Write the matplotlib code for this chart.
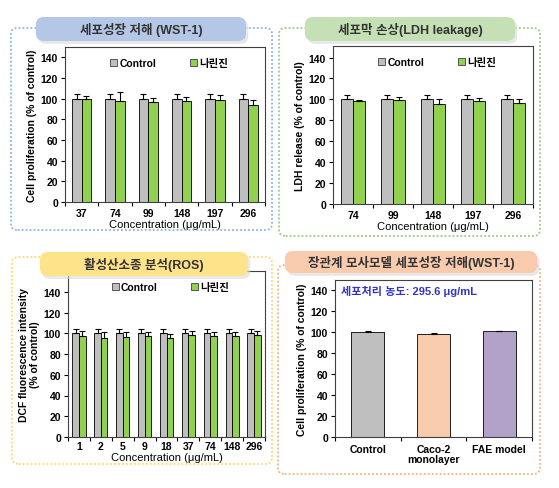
import matplotlib
matplotlib.use("Agg")
import matplotlib.pyplot as plt
import numpy as np
from matplotlib.patches import FancyBboxPatch, Patch

plt.rcParams['font.family'] = ['Liberation Sans', 'Noto Sans CJK KR', 'DejaVu Sans']

# --- data ---
wst_conc = ['37', '74', '99', '148', '197', '296']
wst_ctrl = [100, 100, 100, 100, 100, 100]
wst_ctrl_err = [4.5, 4.5, 4.5, 4.5, 4.5, 4.5]
wst_nar = [100, 98, 97, 98, 99, 94]
wst_nar_err = [3, 8, 4, 4, 5, 5]

ldh_conc = ['74', '99', '148', '197', '296']
ldh_ctrl = [100, 100, 100, 100, 100]
ldh_ctrl_err = [4, 4, 4, 4, 4]
ldh_nar = [98, 99, 96, 98, 97]
ldh_nar_err = [1, 3, 4, 3, 3]

ros_conc = ['1', '2', '5', '9', '18', '37', '74', '148', '296']
ros_ctrl = [100, 100, 100, 100, 100, 100, 100, 100, 100]
ros_ctrl_err = [4.5, 4.5, 4.5, 4.5, 4.5, 4.5, 4.5, 4.5, 4.5]
ros_nar = [97, 95, 96, 97, 95, 98, 97, 97, 98]
ros_nar_err = [5, 6, 5, 4, 4, 4, 4, 4, 4]

gut_labels = ['Control', 'Caco-2\nmonolayer', 'FAE model']
gut_vals = [100, 98.5, 101]
gut_err = [1, 1, 0]

W, H = 559, 489
GRAY = '#BFBFBF'
GREEN = '#92D050'


def rect(l, t, r, b):
    # pixel box -> figure fraction
    return [l / W, 1 - b / H, (r - l) / W, (b - t) / H]


def frame_box(fig, l, t, r, b, color):
    x, y, w, h = rect(l, t, r, b)
    fig.patches.append(FancyBboxPatch((x, y), w, h, boxstyle="round,pad=0,rounding_size=0.012",
                                      transform=fig.transFigure, fill=False, edgecolor=color,
                                      linestyle=(0, (1, 1.2)), linewidth=1.3, zorder=0))


def title_pill(fig, l, t, r, b, color, text):
    x, y, w, h = rect(l, t, r, b)
    fig.patches.append(FancyBboxPatch((x + 0.004, y - 0.006), w, h, boxstyle="round,pad=0,rounding_size=0.015",
                                      transform=fig.transFigure, facecolor='#D9D9D9', edgecolor='none',
                                      alpha=0.6, zorder=1))
    fig.patches.append(FancyBboxPatch((x, y), w, h, boxstyle="round,pad=0,rounding_size=0.015",
                                      transform=fig.transFigure, facecolor=color, edgecolor='none', zorder=2))
    fig.text(x + w / 2, y + h / 2, text, ha='center', va='center', fontsize=9,
             fontweight='bold', color='#333333', zorder=3)


def style_axes(ax, ymax):
    ax.set_ylim(0, ymax)
    ax.set_yticks(np.arange(0, 141, 20))
    for s in ax.spines.values():
        s.set_linewidth(0.8)
        s.set_color('#404040')
    ax.tick_params(axis='y', direction='out', length=3, width=0.8, labelsize=7.5, pad=2)
    for lab in ax.get_yticklabels():
        lab.set_fontweight('bold')


def pair_chart(ax, conc, ctrl, ctrl_err, nar, nar_err, ymax, width, tick_pad=4):
    x = np.arange(len(conc))
    ekw = dict(elinewidth=0.8, capsize=2.5, capthick=0.8, ecolor='black')
    ax.bar(x - width / 2, ctrl, width, color=GRAY, edgecolor='black', linewidth=0.6,
           yerr=[np.zeros(len(x)), ctrl_err], error_kw=ekw)
    ax.bar(x + width / 2, nar, width, color=GREEN, edgecolor='black', linewidth=0.6,
           yerr=[np.zeros(len(x)), nar_err], error_kw=ekw)
    ax.set_xlim(-0.5, len(x) - 0.5)
    ax.set_xticks(x)
    ax.set_xticklabels(conc, fontsize=7.5, fontweight='bold')
    ax.set_xticks(np.arange(-0.5, len(x), 1), minor=True)
    ax.tick_params(axis='x', which='major', length=0, pad=tick_pad)
    ax.tick_params(axis='x', which='minor', direction='out', length=3, width=0.8)
    style_axes(ax, ymax)
    ax.set_xlabel('Concentration (μg/mL)', fontsize=8, labelpad=1)
    handles = [Patch(facecolor=GRAY, edgecolor='#404040', linewidth=0.6, label='Control'),
               Patch(facecolor=GREEN, edgecolor='#404040', linewidth=0.6, label='나린진')]
    ax.legend(handles=handles, ncol=2, loc='upper center', bbox_to_anchor=(0.52, 0.99),
              frameon=False, handlelength=0.7, handleheight=0.7,
              handletextpad=0.2, columnspacing=3.2, prop={'weight': 'bold', 'size': 7.5})


fig = plt.figure(figsize=(W / 100, H / 100), dpi=100)

# panel boxes and titles
frame_box(fig, 11, 29, 272, 231, '#8FB4DC')
frame_box(fig, 279, 29, 540, 237, '#9CC77E')
frame_box(fig, 12, 258, 272, 465, '#FFD966')
frame_box(fig, 278, 266, 540, 475, '#F4B183')
title_pill(fig, 36, 18, 246, 42, '#B4C7E7', '세포성장 저해 (WST-1)')
title_pill(fig, 305, 18, 515, 42, '#C5E0B4', '세포막 손상(LDH leakage)')
title_pill(fig, 40, 253, 248, 277, '#FFE38A', '활성산소종 분석(ROS)')
title_pill(fig, 285, 252, 537, 274, '#F8CBAD', '장관계 모사모델 세포성장 저해(WST-1)')

# WST-1
ax1 = fig.add_axes(rect(65, 48, 265, 203))
pair_chart(ax1, wst_conc, wst_ctrl, wst_ctrl_err, wst_nar, wst_nar_err, 150, 0.29)
ax1.set_ylabel('Cell proliferation (% of control)', fontsize=7.5, fontweight='bold', labelpad=3)

# LDH
ax2 = fig.add_axes(rect(333, 47, 533, 205))
pair_chart(ax2, ldh_conc, ldh_ctrl, ldh_ctrl_err, ldh_nar, ldh_nar_err, 151, 0.31)
ax2.set_ylabel('LDH release (% of control)', fontsize=7.5, fontweight='bold', labelpad=3)

# ROS
ax3 = fig.add_axes(rect(68, 272, 265, 438))
pair_chart(ax3, ros_conc, ros_ctrl, ros_ctrl_err, ros_nar, ros_nar_err, 160, 0.3, tick_pad=3)
ax3.set_ylabel('DCF fluorescence intensity\n(% of control)', fontsize=7.5, fontweight='bold',
               labelpad=3, linespacing=1.1)
ax3.xaxis.labelpad = 0.5

# gut model
ax4 = fig.add_axes(rect(335, 281, 532, 438))
x4 = np.arange(len(gut_labels))
ax4.bar(x4, gut_vals, 0.5, color=[GRAY, '#F8CBAD', '#B3A2C7'], edgecolor='black', linewidth=0.6,
        yerr=[np.zeros(len(x4)), gut_err],
        error_kw=dict(elinewidth=0.8, capsize=2.5, capthick=0.8, ecolor='black'))
ax4.set_xlim(-0.5, len(x4) - 0.5)
ax4.set_xticks(x4)
ax4.set_xticklabels(gut_labels, fontsize=7.5, fontweight='bold', linespacing=1.0)
ax4.set_xticks(np.arange(-0.5, len(x4), 1), minor=True)
ax4.tick_params(axis='x', which='major', length=0, pad=5)
ax4.tick_params(axis='x', which='minor', direction='out', length=3, width=0.8)
style_axes(ax4, 150)
ax4.set_ylabel('Cell proliferation (% of control)', fontsize=7.5, fontweight='bold', labelpad=3)
ax4.text(0.03, 0.93, '세포처리 농도: 295.6 μg/mL', transform=ax4.transAxes, fontsize=8,
         fontweight='bold', color='#3333CC', va='center')

fig.savefig('out.png', dpi=100)
